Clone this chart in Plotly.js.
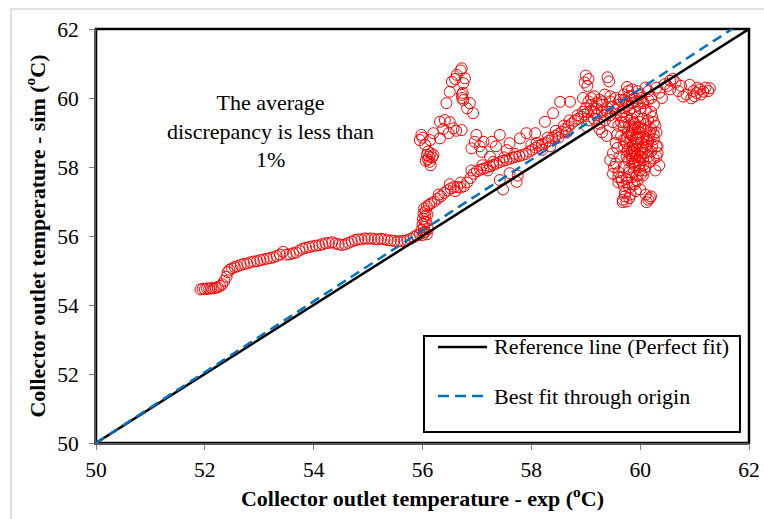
<!DOCTYPE html>
<html>
<head>
<meta charset="utf-8">
<script src="https://cdn.plot.ly/plotly-3.0.1.min.js"></script>
<style>html,body{margin:0;padding:0;background:#fff;}#chart{width:764px;height:519px;}</style>
</head>
<body>
<div id="chart"></div>
<script>
// Axis ranges / ticks
const axisRange = [50, 62];
const tickVals = [50, 52, 54, 56, 58, 60, 62];

// Reference line (perfect fit) and best fit through origin
const refX = [50, 62];
const refY = [50, 62];
const fitX = [50, 61.69];
const fitY = [50, 62];

// Legend labels
const legendNames = ['Reference line (Perfect fit)', 'Best fit through origin'];

// Measured points [exp, sim], by region of the cloud
const lowTrail = [[51.92,54.45],[51.96,54.47],[52.0,54.46],[52.04,54.48],[52.08,54.47],[52.12,54.49],[52.16,54.48],[52.2,54.5],[52.24,54.52],[52.28,54.55],[52.32,54.6],[52.36,54.7],[52.4,54.82],[52.42,54.95],[52.45,55.02],[52.5,55.06],[52.55,55.1],[52.6,55.12],[52.66,55.16],[52.72,55.19],[52.78,55.2],[52.84,55.24],[52.9,55.26],[52.96,55.27],[53.02,55.3],[53.08,55.32],[53.14,55.34],[53.2,55.36],[53.26,55.38],[53.32,55.42],[53.38,55.46],[53.44,55.54],[53.5,55.46],[53.56,55.47],[53.62,55.5],[53.68,55.52],[53.74,55.58],[53.8,55.63],[53.86,55.66],[53.92,55.68],[53.98,55.7],[54.04,55.72],[54.1,55.73],[54.16,55.76],[54.22,55.79],[54.28,55.8],[54.34,55.82],[54.4,55.78],[54.46,55.76],[54.52,55.74],[54.58,55.76],[54.64,55.8],[54.7,55.84],[54.76,55.88],[54.82,55.9],[54.88,55.9],[54.94,55.93],[55.0,55.92],[55.06,55.93],[55.12,55.91],[55.18,55.9],[55.24,55.92],[55.3,55.9],[55.36,55.88],[55.42,55.87],[55.48,55.86],[55.54,55.84],[55.6,55.85],[55.66,55.86],[55.72,55.88],[55.78,55.92],[55.84,55.97],[55.9,56.02],[55.95,56.05]];

const jump = [[56.0,56.02],[56.02,56.1],[55.98,56.18],[56.03,56.26],[56.0,56.34],[56.04,56.42],[56.01,56.5],[56.05,56.58],[56.02,56.66],[56.06,56.72],[56.03,56.8],[56.08,56.86],[56.12,56.9],[56.05,56.12],[56.08,56.05],[56.1,56.2],[56.07,56.4],[56.09,56.62]];

const band = [[56.16,56.95],[56.22,57.0],[56.28,57.08],[56.34,57.15],[56.4,57.25],[56.46,57.32],[56.52,57.38],[56.58,57.42],[56.64,57.42],[56.7,57.4],[56.76,57.44],[56.82,57.55],[56.88,57.68],[56.94,57.8],[57.0,57.88],[57.06,57.92],[57.12,57.95],[57.18,57.98],[57.24,58.02],[57.3,58.06],[57.36,58.1],[57.42,58.14],[57.48,58.18],[57.54,58.2],[57.6,58.24],[57.66,58.27],[57.72,58.3],[57.78,58.32],[57.84,58.35],[57.9,58.38],
[56.3,57.2],[56.5,57.5],[56.9,57.9],[57.1,58.05],[57.3,58.15],[57.5,58.28],[57.7,58.38],[56.7,57.55],[57.2,57.9],[56.6,57.3],
[57.96,58.45],[58.02,58.5],[58.08,58.56],[58.14,58.62],[58.2,58.66],[58.26,58.7],[58.32,58.76],[58.38,58.84],[58.44,58.9],[58.5,58.96],[58.56,59.02],[58.62,59.1],[58.68,59.18],[58.74,59.26],[58.8,59.34],[58.86,59.4],[58.92,59.46],[58.98,59.52],[59.04,59.58],[59.1,59.64],
[58.0,58.65],[58.1,58.7],[58.3,58.85],[58.45,59.05],[58.6,59.2],[58.7,59.35],[58.85,59.5],[58.95,59.6],[58.2,58.5],[58.5,58.85],[58.35,58.6],[58.65,59.0],
[57.42,57.62],[57.48,57.35],[57.6,57.82],[57.73,57.57],[57.75,57.75]];

const upperLeft = [[56.72,60.86],[56.7,60.8],[56.63,60.67],[56.78,60.57],[56.54,60.47],[56.75,60.43],[56.6,60.55],[56.5,60.18],[56.72,60.09],[56.74,60.15],[56.75,59.94],[56.73,60.0],[56.87,59.85],[56.44,59.85],[56.93,59.56],[56.82,59.7],
[56.32,59.31],[56.41,59.36],[56.57,59.12],[56.72,59.07],[56.5,59.3],[56.62,59.05],[56.2,58.98],[55.98,58.93],[55.95,58.78],[56.14,58.78],[56.32,58.83],[56.48,58.98],[56.05,58.64],[56.38,59.1],[56.0,58.85],
[56.08,58.35],[56.12,58.3],[56.15,58.4],[56.1,58.22],[56.06,58.18],[56.18,58.28],[56.13,58.15],[56.2,58.35],[56.1,58.45],[56.15,58.05],
[56.99,58.93],[56.96,58.73],[57.12,58.73],[56.9,58.54],[57.09,58.44],[57.42,58.93],[57.6,58.69],[57.79,58.83],[57.91,58.98],[58.07,58.98],[57.27,58.73],[57.55,58.49],[57.24,58.3],[58.25,59.31],[58.4,59.56],[58.53,59.89],[58.71,59.89],[57.05,58.6],[57.35,58.6]];

const hotspot = [[59.0,60.65],[59.05,60.55],[58.98,60.45],[59.03,60.35],[59.4,60.6],[59.43,60.48],[59.76,60.32],[59.78,60.2],
[58.95,60.0],[59.05,59.9],[59.15,60.05],[59.25,59.95],[59.35,60.1],[59.45,59.9],[59.55,60.0],[59.0,59.7],[59.1,59.8],[59.2,59.7],[59.3,59.8],[59.4,59.7],[59.5,59.75],[59.6,59.8],[59.2,59.5],[59.3,59.6],[59.45,59.5],[59.55,59.55],[59.35,59.35],[59.5,59.3],[59.15,59.4],[59.25,59.25],[59.02,59.17],[59.3,59.0],[59.25,59.1],[59.38,58.9],
[59.15,59.6],[59.2,59.85],[59.3,59.9],[59.4,59.6],[59.45,60.05],[59.55,59.65],[59.1,60.0],[59.35,59.5],[59.05,59.35],
[59.7,60.1],[59.8,60.05],[59.9,60.0],[59.75,59.9],[59.85,59.85],[59.95,59.8],[60.05,59.9],[60.15,59.95],[59.7,59.7],[59.8,59.65],[59.9,59.6],[60.0,59.7],[60.1,59.65],[60.2,59.6],
[59.65,59.5],[59.75,59.45],[59.85,59.4],[59.95,59.45],[60.05,59.4],[60.15,59.35],[60.25,59.3],
[59.6,59.2],[59.7,59.15],[59.8,59.2],[59.9,59.1],[60.0,59.15],[60.1,59.05],[60.2,59.1],[60.3,59.0],
[59.65,58.9],[59.75,58.85],[59.85,58.9],[59.95,58.8],[60.05,58.85],[60.15,58.75],[60.25,58.8],[60.3,58.6],
[59.7,58.6],[59.8,58.55],[59.9,58.6],[60.0,58.5],[60.1,58.55],[60.2,58.45],
[59.75,58.3],[59.85,58.25],[59.95,58.35],[60.05,58.2],[60.15,58.3],[60.25,58.25],
[59.7,58.0],[59.8,57.95],[59.9,58.05],[60.0,57.9],[60.1,58.0],
[59.6,57.85],[59.65,57.7],[59.75,57.65],[59.85,57.7],[59.95,57.6],[60.05,57.75],
[59.7,57.45],[59.8,57.4],[59.9,57.5],[60.0,57.35],
[59.68,57.05],[59.72,57.15],[59.75,57.0],[60.1,57.2],[60.15,57.05],[60.2,57.15],[60.12,56.98],
[59.5,58.4],[59.55,58.1],[59.5,57.8],[59.6,57.55],[59.55,58.7],[59.45,58.2],
[60.3,58.3],[60.35,58.05],[60.32,58.6],[60.28,57.9],
[59.9,58.4],[59.95,58.7],[60.0,58.3],[59.85,58.45],[60.05,58.6],[59.9,58.15],[60.0,58.1],[59.95,58.95],[59.85,59.05],[60.0,59.3],[59.9,59.25],[60.1,59.25],
[59.62,59.95],[59.68,59.6],[59.72,59.3],[59.78,59.0],[59.82,58.75],[59.88,58.5],[59.92,58.3],[59.98,58.0],[60.02,57.8],[59.88,57.85],[59.78,58.2],[59.82,58.4],[60.08,58.4],[60.12,58.8],[60.18,59.0],[60.22,58.6],[60.18,58.15],[60.08,57.9],[59.92,57.3],[59.82,57.2],[59.62,58.3],[59.58,58.95],[59.65,59.3],[60.28,59.2],[60.22,59.45],[59.92,59.9],[60.02,60.0],[59.78,59.78],[59.88,59.3],[59.98,59.0],
[59.86,58.62],[59.94,58.52],[60.04,58.42],[59.84,58.32],[59.96,58.18],[60.06,58.05],[59.86,58.1],[59.76,58.45],[60.12,58.65],[59.92,58.82],[60.02,58.72],[59.82,58.95],[59.74,58.7],[60.16,58.9],[59.96,59.15],[59.86,59.15],[59.7,58.8],[60.06,59.1],[59.8,57.85],[59.94,57.75],[59.76,57.55],[59.86,57.5],[59.66,57.6],[59.72,57.25],[59.8,57.1],[59.68,56.98],[60.18,57.1],[60.25,58.95],[60.32,58.4],[59.58,58.55],[59.52,58.0],[59.6,57.7]];

const upperRight = [[59.7,59.95],[59.85,60.05],[60.0,60.1],[60.15,60.2],[60.3,60.3],[60.45,60.4],[60.55,60.5],[60.6,60.55],[60.5,60.35],[60.35,60.15],[60.2,60.0],[60.05,59.85],[60.25,59.8],[60.4,60.0],[60.55,60.25],[60.65,60.45],[60.1,60.3],[59.95,60.2],[59.85,60.25],
[60.79,60.04],[60.85,60.1],[60.91,60.38],[60.94,59.99],[61.0,60.05],[61.04,60.14],[61.1,60.25],[61.16,60.18],[61.2,60.3],[61.05,60.3],[60.98,60.2],[61.12,60.1],[60.7,60.2],[60.75,60.35],[61.25,60.2],[61.28,60.28]];

const allPts = lowTrail.concat(jump, band, upperLeft, hotspot, upperRight);
const expT = allPts.map(p => p[0]);
const simT = allPts.map(p => p[1]);

const FONT = 'Liberation Serif, Times New Roman, serif';

const traces = [
  {
    x: expT, y: simT, type: 'scatter', mode: 'markers', showlegend: false, name: 'Data',
    marker: {symbol: 'circle-open', size: 11, color: '#FF0000', line: {width: 1, color: '#FF0000'}}
  },
  {
    x: refX, y: refY, type: 'scatter', mode: 'lines', name: legendNames[0], showlegend: false,
    line: {color: '#000000', width: 2.5}
  },
  {
    x: fitX, y: fitY, type: 'scatter', mode: 'lines', name: legendNames[1], showlegend: false,
    line: {color: '#0070C0', width: 2.5, dash: '10px,6px'}
  }
];

const axisCommon = {
  range: axisRange, tickvals: tickVals, ticks: 'outside', ticklen: 5, tickwidth: 1,
  tickcolor: '#808080', showgrid: false, zeroline: false, showline: true,
  linecolor: '#595959', linewidth: 2,
  tickfont: {family: FONT, size: 21.5, color: '#000'}
};

// legend box geometry in paper units (plot area 653 x 414 px)
const lgX0 = 0.5023, lgX1 = 0.9862, lgY0 = 0.0266, lgY1 = 0.2585;
const lgLineX0 = 0.5237, lgLineX1 = 0.5988, lgTextX = 0.6064;
const lgRowY = [0.2319, 0.1135];

const layout = {
  width: 764, height: 519,
  margin: {l: 96, r: 15, t: 29, b: 76},
  paper_bgcolor: '#fff', plot_bgcolor: '#fff',
  font: {family: FONT, color: '#000'},
  showlegend: false,
  xaxis: Object.assign({}, axisCommon, {
    ticklabelstandoff: 1,
    title: {text: '<b>Collector outlet temperature - exp (<sup>o</sup>C)</b>', font: {family: FONT, size: 22, color: '#000'}, standoff: 10}
  }),
  yaxis: Object.assign({}, axisCommon, {
    ticklabelstandoff: 6,
    title: {text: '<b>Collector outlet temperature - sim (<sup>o</sup>C)</b>', font: {family: FONT, size: 22, color: '#000'}, standoff: 6}
  }),
  annotations: [
    {
      xref: 'x', yref: 'y', x: 53.2, y: 59.04, showarrow: false, align: 'center',
      text: 'The average<br>discrepancy is less than<br>1%',
      font: {family: FONT, size: 22, color: '#000'}
    },
    {
      xref: 'paper', yref: 'paper', x: lgTextX, y: lgRowY[0], xanchor: 'left', yanchor: 'middle',
      showarrow: false, text: legendNames[0], font: {family: FONT, size: 22, color: '#000'}
    },
    {
      xref: 'paper', yref: 'paper', x: lgTextX, y: lgRowY[1], xanchor: 'left', yanchor: 'middle',
      showarrow: false, text: legendNames[1], font: {family: FONT, size: 22, color: '#000'}
    }
  ],
  shapes: [
    {type: 'rect', xref: 'paper', yref: 'paper', x0: 0, x1: 1, y0: 0, y1: 1, line: {color: '#000', width: 2.5}, layer: 'below'},
    {type: 'line', xref: 'paper', yref: 'paper', x0: -0.1302, x1: 1.05, y0: 1.0483, y1: 1.0483, line: {color: '#c0c0c0', width: 1}},
    {type: 'line', xref: 'paper', yref: 'paper', x0: -0.1302, x1: -0.1302, y0: 1.0483, y1: -0.2, line: {color: '#c0c0c0', width: 1}},
    {type: 'rect', xref: 'paper', yref: 'paper', x0: lgX0, x1: lgX1, y0: lgY0, y1: lgY1, fillcolor: '#fff', line: {color: '#000', width: 2}},
    {type: 'line', xref: 'paper', yref: 'paper', x0: lgLineX0, x1: lgLineX1, y0: lgRowY[0], y1: lgRowY[0], line: {color: '#000', width: 2.5}},
    {type: 'line', xref: 'paper', yref: 'paper', x0: lgLineX0, x1: lgLineX1, y0: lgRowY[1], y1: lgRowY[1], line: {color: '#0070C0', width: 2.5, dash: '11px,6px'}}
  ]
};

Plotly.newPlot('chart', traces, layout, {displayModeBar: false, staticPlot: true});
</script>
</body>
</html>
